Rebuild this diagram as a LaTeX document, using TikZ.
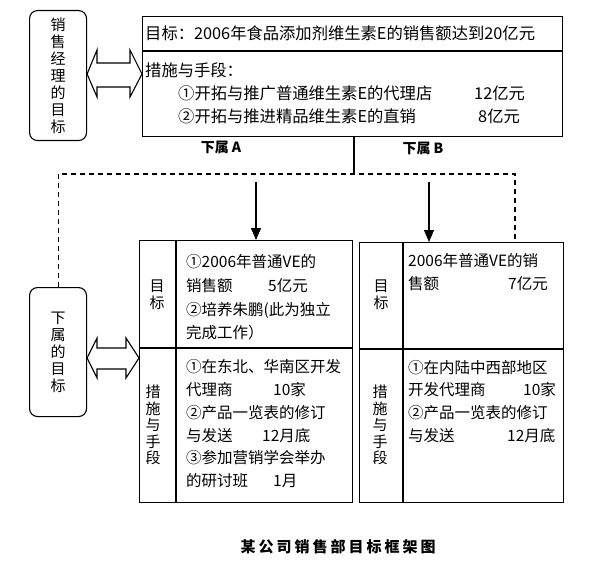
\documentclass[tikz,border=0pt]{standalone}
\usepackage{fontspec}
\setmainfont{Noto Sans CJK SC}
\usetikzlibrary{arrows.meta}
\tikzset{
 box/.style={draw, line width=1.1pt, inner sep=0pt, anchor=north west},
 rbox/.style={draw, line width=1.1pt, rounded corners=8pt, inner sep=0pt, anchor=north west},
 txt/.style={anchor=west, inner sep=0pt, font=\fontsize{15.5}{15.5}\selectfont},
 ttl/.style={anchor=west, inner sep=0pt, font=\fontsize{16.3}{16.3}\selectfont},
 vlab/.style={align=center, inner sep=0pt, font=\fontsize{15}{17}\selectfont},
 dashline/.style={line width=1.1pt, dash pattern=on 5pt off 4pt},
 link/.style={line width=1.1pt},
 darrow/.style={draw, line width=1.1pt, fill=white, line join=miter},
 downarrow/.style={line width=1.1pt, -{Triangle[length=12pt,width=10pt]}},
}
\begin{document}
\begin{tikzpicture}[x=1pt,y=-1pt]
\useasboundingbox (0,0) rectangle (594,567);
\fill[white] (0,0) rectangle (594,567);

% left rounded boxes
\node[rbox, minimum width=57pt, minimum height=130pt] (mgr) at (29,10) {};
\node[vlab] (mgrlab) at (mgr.center) {销\\售\\经\\理\\的\\目\\标};
\node[rbox, minimum width=57pt, minimum height=129pt] (sub) at (29,287) {};
\node[vlab] (sublab) at (sub.center) {下\\属\\的\\目\\标};

% top box
\node[box, minimum width=420pt, minimum height=120pt] (top) at (142,16) {};
\draw[link] (142,51) -- (562,51);
\node[ttl] (goal) at (145,33) {目标：2006年食品添加剂维生素E的销售额达到20亿元};
\node[ttl] (meas) at (145,70) {措施与手段：};
\node[ttl] (m1) at (178,93) {①开拓与推广普通维生素E的代理店};
\node[ttl] (m1v) at (474,93) {12亿元};
\node[ttl] (m2) at (178,116) {②开拓与推进精品维生素E的直销};
\node[ttl] (m2v) at (478,116) {8亿元};

\node[font=\fontsize{14}{14}\selectfont\bfseries, inner sep=0pt] (subA) at (221,147) {下属 A};
\node[font=\fontsize{14}{14}\selectfont\bfseries, inner sep=0pt] (subB) at (423,148) {下属 B};

% box A
\node[box, minimum width=213pt, minimum height=262pt] (bA) at (139,240) {};
\draw[link] (176,240) -- (176,502);
\draw[link] (139,348) -- (352,348);
\node[vlab] (aG) at (157,295) {目\\标};
\node[vlab, font=\fontsize{15}{16.5}\selectfont] (aM) at (153,425) {措\\施\\与\\手\\段};
\node[txt] (a1) at (186,262) {①2006年普通VE的};
\node[txt] (a2) at (186,286) {销售额};
\node[txt] (a2v) at (268,286) {5亿元};
\node[txt] (a3) at (186,310) {②培养朱鹏(此为独立};
\node[txt] (a4) at (186,333) {完成工作）};
\node[txt] (a5) at (186,367) {①在东北、华南区开发};
\node[txt] (a6) at (186,390) {代理商};
\node[txt] (a6v) at (273,390) {10家};
\node[txt] (a7) at (186,413) {②产品一览表的修订};
\node[txt] (a8) at (186,436) {与发送};
\node[txt] (a8v) at (262,436) {12月底};
\node[txt] (a9) at (186,458) {③参加营销学会举办};
\node[txt] (a10) at (186,481) {的研讨班};
\node[txt] (a10v) at (273,481) {1月};

% box B
\node[box, minimum width=204pt, minimum height=260pt] (bB) at (359,242) {};
\draw[link] (403,242) -- (403,502);
\draw[link] (359,349) -- (563,349);
\node[vlab] (bG) at (381,295) {目\\标};
\node[vlab, font=\fontsize{15}{16.5}\selectfont] (bM) at (380,425) {措\\施\\与\\手\\段};
\node[txt] (b1) at (408,261) {2006年普通VE的销};
\node[txt] (b2) at (408,284) {售额};
\node[txt] (b2v) at (508,284) {7亿元};
\node[txt] (b3) at (408,368) {①在内陆中西部地区};
\node[txt] (b4) at (408,390) {开发代理商};
\node[txt] (b4v) at (523,390) {10家};
\node[txt] (b5) at (408,413) {②产品一览表的修订};
\node[txt] (b6) at (408,436) {与发送};
\node[txt] (b6v) at (507,436) {12月底};

% connectors
\coordinate (junc) at (354,174);
\coordinate (dashR) at (515,174);
\coordinate (aS) at (256,182);
\coordinate (bS) at (429,182);
\draw[link] (top.south -| junc) -- (junc);
\draw[dashline] (sub.north) |- (dashR) -- (dashR |- bB.north);
\draw[downarrow] (aS) -- (aS |- bA.north);
\draw[downarrow] (bS) -- (bS |- bB.north);

% double arrows
\draw[darrow] (mgr.east |- 0,74) -- (97,50) -- (97,63) -- (130,63) -- (130,50) -- (top.west |- 0,74) -- (130,97) -- (130,87) -- (97,87) -- (97,97) -- cycle;
\draw[darrow] (sub.east |- 0,358) -- (97,338) -- (97,348) -- (126,348) -- (126,338) -- (bA.west |- 0,358) -- (126,378) -- (126,369) -- (97,369) -- (97,378) -- cycle;

% caption
\node[font=\fontsize{15}{15}\selectfont\bfseries\addfontfeature{LetterSpace=20}, inner sep=0pt] (cap) at (338,547) {某公司销售部目标框架图};
\end{tikzpicture}
\end{document}
